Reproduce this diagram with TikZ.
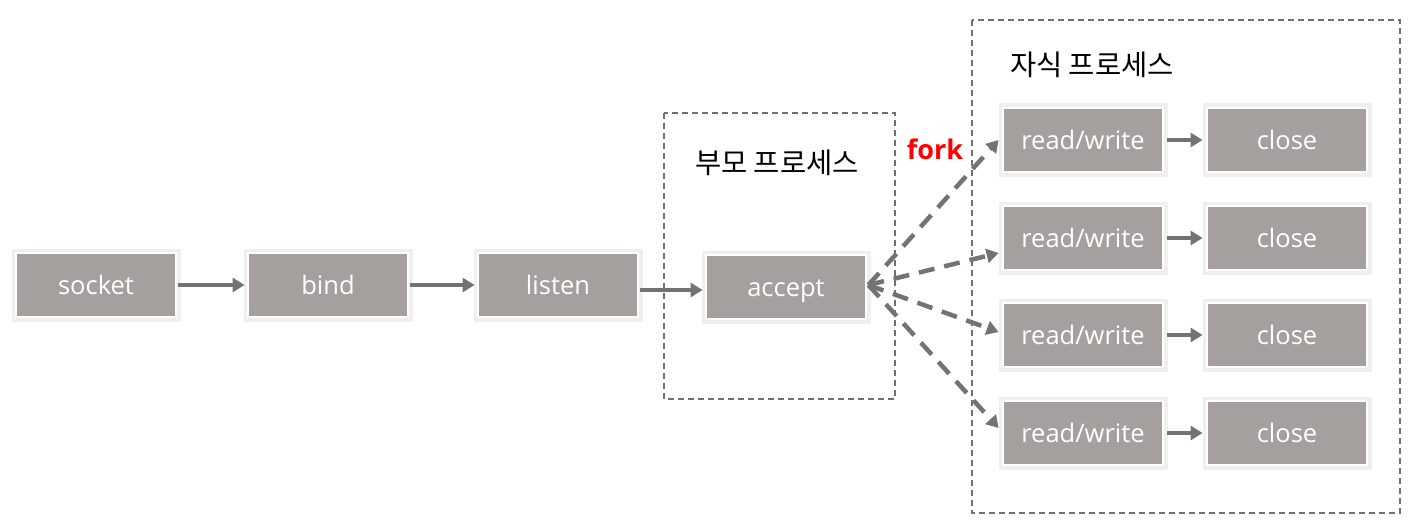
\documentclass[tikz,border=0pt]{standalone}
\usepackage{fontspec}
\setmainfont{Open Sans}
\newfontfamily\krfont{Noto Sans CJK KR}
\usetikzlibrary{arrows.meta,calc}
\definecolor{boxgray}{RGB}{165,160,158}
\definecolor{framegray}{RGB}{239,239,239}
\definecolor{arrgray}{RGB}{115,115,115}
\definecolor{dashgray}{RGB}{112,112,112}
\definecolor{forkred}{RGB}{255,0,0}
\tikzset{
  stepbox/.style={rectangle, minimum width=160pt, minimum height=64pt, inner sep=0pt,
    fill=boxgray, draw=boxgray, line width=0.8pt, double=white, double distance=1.2pt,
    preaction={draw=framegray, line width=9pt},
    text=white, font=\fontsize{25.5}{30}\selectfont, text height=21pt, text depth=2pt},
  solidarr/.style={draw=arrgray, line width=4pt, -{Triangle[length=12pt,width=14pt]}},
  dasharr/.style={draw=arrgray, line width=4.5pt, dash pattern=on 16pt off 10pt, -{Triangle[length=12pt,width=14pt]}},
  region/.style={draw=dashgray, line width=1.5pt, dash pattern=on 6pt off 4pt},
  krlabel/.style={font=\krfont\fontsize{28.5}{34}\selectfont, text=black, inner sep=0pt},
}
\begin{document}
\begin{tikzpicture}[x=1pt,y=-1pt]
\useasboundingbox (0,0) rectangle (1423,532);
% regions
\draw[region] (664,113) rectangle (895,399);
\draw[region] (972,20) rectangle (1400,513);
\node[krlabel] (parentlbl) at (777,163) {부모 프로세스};
\node[krlabel] (childlbl) at (1092,65) {자식 프로세스};
% main chain
\node[stepbox] (socket) at (96,285) {socket};
\node[stepbox] (bind) at (328,285) {bind};
\node[stepbox] (listen) at (558,285) {listen};
\node[stepbox] (accept) at (786,287) {accept};
% children
\foreach \i/\y in {1/140,2/238,3/335,4/433}{
  \node[stepbox] (rw\i) at (1083,\y) {read/write};
  \node[stepbox] (cl\i) at (1287,\y) {close};
}
\node[font=\bfseries\fontsize{27}{32}\selectfont, text=forkred, inner sep=0pt] (fork) at (935,149) {fork};
% solid arrows
\draw[solidarr] ([xshift=2pt]socket.east) -- ([xshift=-3pt]bind.west);
\draw[solidarr] ([xshift=2pt]bind.east) -- ([xshift=-3pt]listen.west);
\draw[solidarr] ([xshift=2pt,yshift=-5pt]listen.east) -- ([xshift=-3pt,yshift=-3pt]accept.west);
\foreach \i in {1,2,3,4}{
  \draw[solidarr] ([xshift=4pt]rw\i.east) -- ([xshift=-4pt]cl\i.west);
}
% dashed fork arrows
\coordinate (forkpt) at ([xshift=2pt,yshift=2pt]accept.east);
\draw[dasharr] (forkpt) -- ([xshift=-4pt]rw1.west);
\draw[dasharr] (forkpt) -- ([xshift=-4pt,yshift=-15pt]rw2.west);
\draw[dasharr] (forkpt) -- ([xshift=-4pt,yshift=3pt]rw3.west);
\draw[dasharr] (forkpt) -- ([xshift=-4pt,yshift=5pt]rw4.west);
\end{tikzpicture}
\end{document}
